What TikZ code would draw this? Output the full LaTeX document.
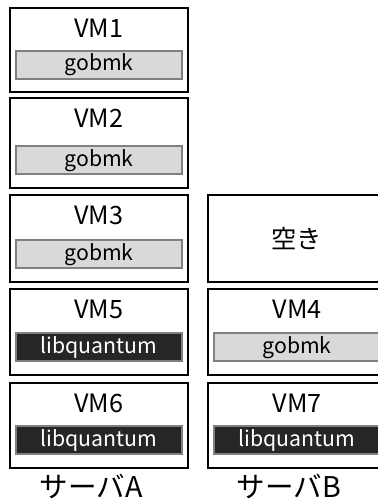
\documentclass[tikz,border=0pt]{standalone}
\usepackage{fontspec}
\setmainfont{Noto Sans CJK JP}
\usepackage{tikz}
\usetikzlibrary{positioning}
\definecolor{barlight}{HTML}{D9D9D9}
\definecolor{bardark}{HTML}{262626}
\definecolor{barline}{HTML}{808080}
\tikzset{
  % maskiner
  vm/.style={rectangle,draw=black,line width=1.5pt,fill=white,outer sep=0pt,
             minimum width=4.71cm,inner sep=0pt},
  vmn/.style={font=\fontsize{19}{21}\selectfont,inner sep=0pt},
  % program
  app/.style={rectangle,draw=barline,line width=1.5pt,fill=barlight,outer sep=0pt,
              minimum width=4.39cm,minimum height=0.74cm,inner sep=0pt,
              font=\fontsize{16}{18}\selectfont},
  appq/.style={app,fill=bardark,text=white},
  srv/.style={font=\fontsize{21.5}{24}\selectfont,inner sep=0pt},
}
\begin{document}
\begin{tikzpicture}
\useasboundingbox (0,0) rectangle (10,13.335);
  % server A
  \node[vm,minimum height=2.22cm] (vm1) at (2.619,12.012) {};
  \node[vmn] at ([yshift=-0.53cm]vm1.north) {VM1};
  \node[app,above=0.34cm of vm1.south] (a1) {gobmk};
  \node[vm,minimum height=2.38cm] (vm2) at (2.619,9.551) {};
  \node[vmn] at ([yshift=-0.53cm]vm2.north) {VM2};
  \node[app,above=0.36cm of vm2.south] (a2) {gobmk};
  \node[vm,minimum height=2.30cm] (vm3) at (2.619,7.025) {};
  \node[vmn] at ([yshift=-0.53cm]vm3.north) {VM3};
  \node[app,above=0.36cm of vm3.south] (a3) {gobmk};
  \node[vm,minimum height=2.27cm] (vm5) at (2.619,4.551) {};
  \node[vmn] at ([yshift=-0.53cm]vm5.north) {VM5};
  \node[appq,above=0.36cm of vm5.south] (a5) {libquantum};
  \node[vm,minimum height=2.25cm] (vm6) at (2.619,2.077) {};
  \node[vmn] at ([yshift=-0.53cm]vm6.north) {VM6};
  \node[appq,above=0.36cm of vm6.south] (a6) {libquantum};
  % server B
  \node[vm,minimum height=2.30cm] (free) at (7.858,7.025) {};
  \node[vmn] at (free) {空き};
  \node[vm,minimum height=2.27cm] (vm4) at (7.858,4.551) {};
  \node[vmn] at ([yshift=-0.53cm]vm4.north) {VM4};
  \node[app,above=0.36cm of vm4.south] (a4) {gobmk};
  \node[vm,minimum height=2.25cm] (vm7) at (7.858,2.077) {};
  \node[vmn] at ([yshift=-0.53cm]vm7.north) {VM7};
  \node[appq,above=0.36cm of vm7.south] (a7) {libquantum};
  \node[srv] (sa) at ([xshift=-0.21cm,yshift=-0.5cm]vm6.south) {サーバA};
  \node[srv] (sb) at ([xshift=-0.21cm,yshift=-0.5cm]vm7.south) {サーバB};
\end{tikzpicture}
\end{document}
